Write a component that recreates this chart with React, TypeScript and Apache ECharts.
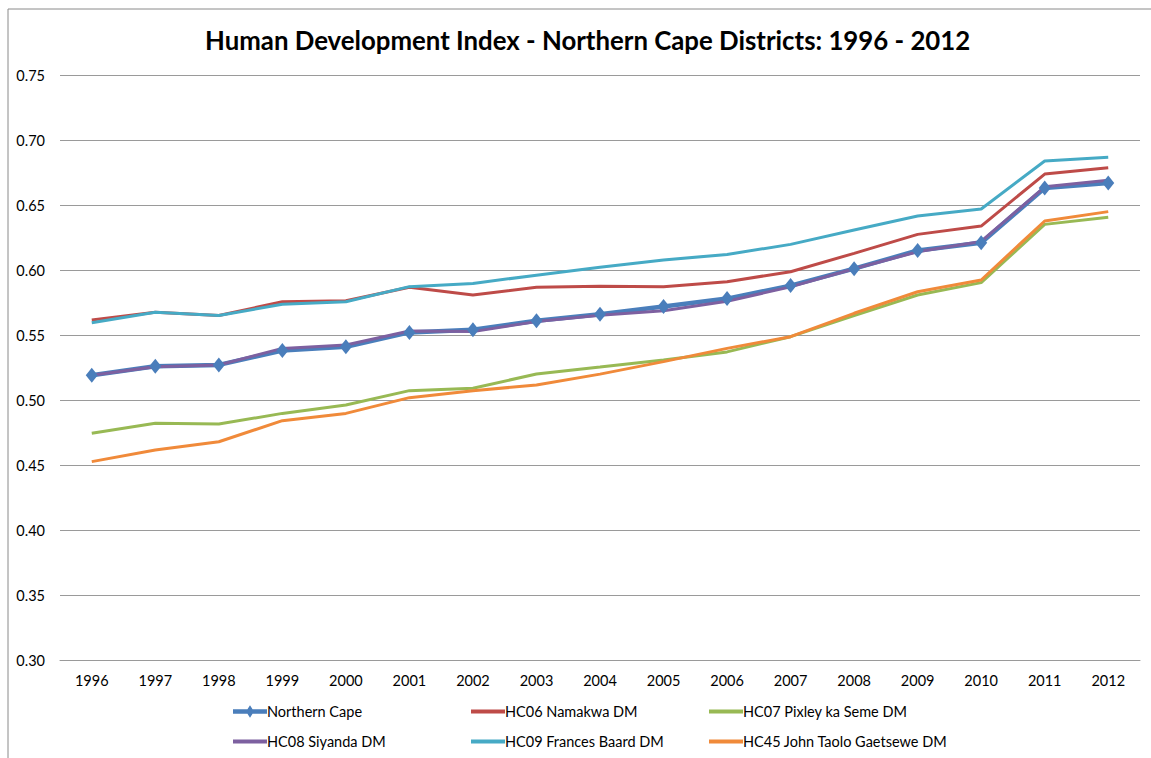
import React, { useEffect, useRef } from "react";
import * as echarts from "echarts";

const years = ["1996","1997","1998","1999","2000","2001","2002","2003","2004","2005","2006","2007","2008","2009","2010","2011","2012"];

const northernCape = [0.519,0.526,0.527,0.538,0.541,0.552,0.554,0.561,0.566,0.572,0.578,0.588,0.601,0.615,0.621,0.663,0.667];
const namakwa = [0.5615,0.5675,0.565,0.5756,0.5764,0.5867,0.5808,0.5867,0.5875,0.5872,0.591,0.5987,0.6128,0.6274,0.6338,0.6738,0.6787];
const pixley = [0.4744,0.4821,0.4815,0.4897,0.4962,0.5072,0.509,0.52,0.5253,0.5308,0.537,0.5487,0.5649,0.5808,0.5903,0.6351,0.6405];
const siyanda = [0.519,0.5256,0.5269,0.5397,0.5423,0.5531,0.5526,0.5603,0.5652,0.5687,0.576,0.587,0.601,0.614,0.622,0.664,0.669];
const francesBaard = [0.5595,0.5675,0.565,0.5736,0.5756,0.5872,0.5897,0.596,0.6022,0.6077,0.612,0.6197,0.6308,0.6415,0.6469,0.6838,0.6867];
const johnTaolo = [0.4526,0.4615,0.4679,0.4841,0.4897,0.5018,0.5072,0.5115,0.5199,0.5295,0.5397,0.5487,0.5667,0.5833,0.5923,0.6377,0.6449];

const seriesNames = [
  "Northern Cape",
  "HC06 Namakwa DM",
  "HC07 Pixley ka Seme DM",
  "HC08 Siyanda DM",
  "HC09 Frances Baard DM",
  "HC45 John Taolo Gaetsewe DM",
];
const seriesData = [northernCape, namakwa, pixley, siyanda, francesBaard, johnTaolo];
const colors = ["#4A7EBB", "#BE4B48", "#98B954", "#7D60A0", "#46AAC5", "#F08A3A"];

const FONT = "Lato, 'Open Sans', sans-serif";
const LINE_ICON = "path://M0,0 L34,0 L34,4 L0,4 Z";
const NC_ICON = "path://M0,4 L34,4 L34,8.5 L0,8.5 Z M17,0 L21,6.25 L17,12.5 L13,6.25 Z";

export default function App() {
  const ref = useRef<HTMLDivElement>(null);
  useEffect(() => {
    document.body.style.margin = "0";
    const chart = echarts.init(ref.current!, null, { renderer: "svg" });
    const series = seriesNames.map((name, i) => {
      const isNC = i === 0;
      return {
        name,
        type: "line",
        data: seriesData[i],
        symbol: isNC ? "diamond" : "none",
        symbolSize: isNC ? [12, 15] : 0,
        showSymbol: isNC,
        lineStyle: { color: colors[i], width: isNC ? 4.5 : 3 },
        itemStyle: { color: colors[i] },
        z: 2,
      };
    });
    const legendCol = (left: number, idx: number[]) => ({
      orient: "vertical",
      left,
      top: 699,
      itemWidth: 34,
      itemHeight: 14,
      itemGap: 15,
      symbolKeepAspect: true,
      data: idx.map((k) => ({ name: seriesNames[k], icon: k === 0 ? NC_ICON : LINE_ICON })),
      textStyle: { fontFamily: FONT, fontSize: 14.5, color: "#000", padding: [0, 0, 0, -5] },
      selectedMode: false,
    });
    chart.setOption({
      animation: false,
      backgroundColor: "#fff",
      color: colors,
      title: {
        text: "Human Development Index - Northern Cape Districts: 1996 - 2012",
        left: 200,
        top: 22,
        textStyle: { fontFamily: FONT, fontWeight: "bold", fontSize: 25.8, color: "#000" },
      },
      graphic: [
        {
          type: "rect",
          shape: { x: 8, y: 9, width: 1300, height: 900 },
          style: { fill: "none", stroke: "#8a8a8a", lineWidth: 1 },
          silent: true,
        },
      ],
      legend: [
        legendCol(228, [0, 3]),
        legendCol(466, [1, 4]),
        legendCol(704, [2, 5]),
      ],
      grid: { left: 60, right: 11, top: 75, bottom: 98, containLabel: false },
      xAxis: {
        type: "category",
        data: years,
        boundaryGap: true,
        axisLine: { lineStyle: { color: "#9a9a9a", width: 1 } },
        axisTick: { show: false },
        axisLabel: { fontFamily: FONT, fontSize: 14.5, color: "#000", margin: 13 },
      },
      yAxis: {
        type: "value",
        min: 0.3,
        max: 0.75,
        interval: 0.05,
        axisLine: { show: false },
        axisTick: { show: false },
        axisLabel: {
          fontFamily: FONT,
          fontSize: 14.5,
          color: "#000",
          margin: 15,
          formatter: (v: number) => v.toFixed(2),
        },
        splitLine: { lineStyle: { color: "#9a9a9a", width: 1 } },
      },
      series,
    });
    return () => chart.dispose();
  }, []);
  return <div ref={ref} style={{ width: 1151, height: 758 }} />;
}
